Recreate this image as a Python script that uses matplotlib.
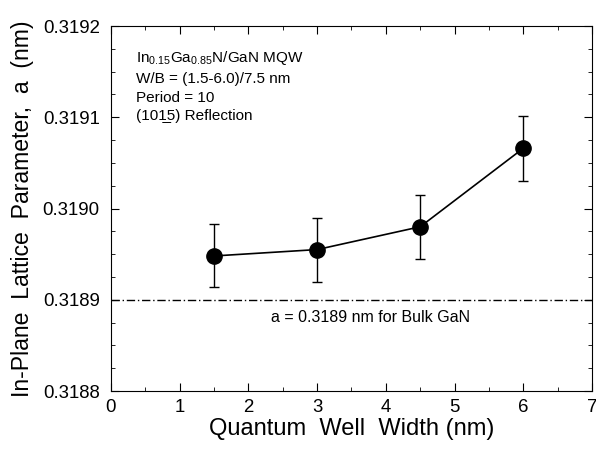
import numpy as np
import matplotlib
matplotlib.use("Agg")
import matplotlib.pyplot as plt
from matplotlib.ticker import MultipleLocator, FormatStrFormatter

plt.rcParams['font.family'] = ['Liberation Sans', 'DejaVu Sans']
plt.rcParams['mathtext.fontset'] = 'custom'
plt.rcParams['mathtext.rm'] = 'Liberation Sans'

# datos
ancho_pozo = [1.5, 3.0, 4.5, 6.0]
parametro_a = [0.318948, 0.318955, 0.318980, 0.319066]
error_a = [0.0000345, 0.000035, 0.0000353, 0.0000356]
a_bulk = 0.3189

fig = plt.figure(figsize=(5.96, 4.5), dpi=100)
ax = fig.add_axes([0.1862, 0.1311, 0.8071, 0.8111])

ax.errorbar(ancho_pozo, parametro_a, yerr=error_a, fmt='o-', color='black',
            ms=11, lw=1.2, elinewidth=1.0, capsize=3.5, capthick=1.0)
ax.axhline(a_bulk, color='black', lw=1.0, ls=(0, (6, 2, 1, 2)))

ax.set_xlim(0, 7)
ax.set_ylim(0.3188, 0.3192)
ax.xaxis.set_major_locator(MultipleLocator(1))
ax.xaxis.set_minor_locator(MultipleLocator(0.5))
ax.yaxis.set_major_locator(MultipleLocator(0.0001))
ax.yaxis.set_minor_locator(MultipleLocator(0.000025))
ax.yaxis.set_major_formatter(FormatStrFormatter('%.4f'))
ax.tick_params(which='both', direction='in', top=True, right=True, labelsize=13.4)
ax.tick_params(which='major', length=6)
ax.tick_params(which='minor', length=3)
ax.tick_params(axis='y', pad=8)
ax.tick_params(axis='x', pad=6)

ax.set_xlabel('Quantum  Well  Width (nm)', fontsize=17, labelpad=1)
ax.set_ylabel('In-Plane  Lattice  Parameter,  a  (nm)', fontsize=16.6, labelpad=6)

texto = ('In$_{0.15}$Ga$_{0.85}$N/GaN MQW\n'
         'W/B = (1.5-6.0)/7.5 nm\n'
         'Period = 10\n'
         '(101\u03325) Reflection')
ax.text(0.052, 0.938, texto, transform=ax.transAxes, fontsize=11, va='top',
        ha='left', linespacing=1.45)
ax.text(3.78, 0.318881, 'a = 0.3189 nm for Bulk GaN', fontsize=11.5,
        ha='center', va='center')

fig.savefig('out.png', dpi=100)
